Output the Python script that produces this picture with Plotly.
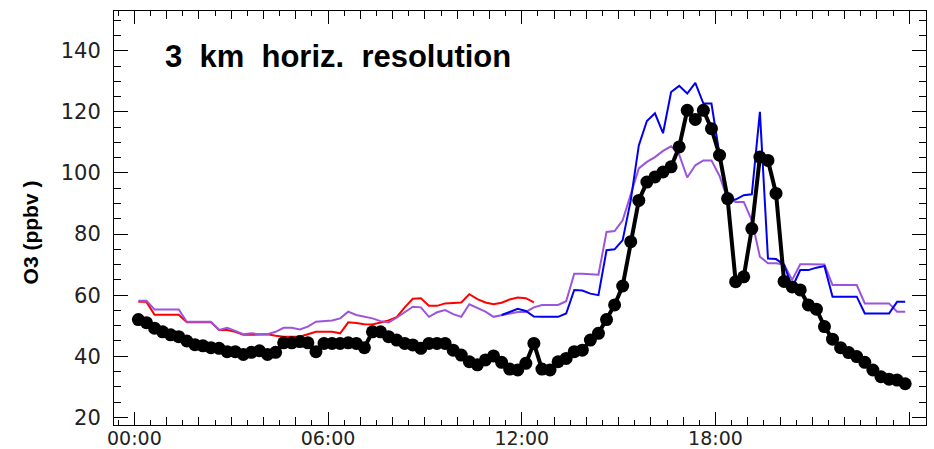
import plotly.graph_objects as go

# 15-minute sample times (hours after midnight)
times = [0.125 + 0.25 * i for i in range(96)]

obs = [52, 51, 49.2, 48, 47, 46.4, 45, 43.8, 43.4, 42.8,
       42.6, 41.5, 41.5, 40.6, 41.3, 41.8, 40.6, 41.3, 44.4, 44.4,
       44.8, 44.4, 41.5, 44.2, 44.2, 44.2, 44.4, 44.2, 42.8, 48,
       48, 46.4, 45.3, 44.2, 43.7, 42.6, 44.2, 44.2, 44.2, 42,
       40.4, 38.2, 37.2, 38.8, 40.1, 38, 35.8, 35.5, 37.7, 44.2,
       35.8, 35.5, 38.2, 39.3, 41.5, 42, 45.3, 47.5, 52, 56.8,
       63, 77.5, 91, 97, 98.7, 100.3, 102, 108.5, 120.5, 117.5,
       120.5, 114.5, 105.8, 91.6, 64.4, 66, 81.8, 105.2, 104.1, 93.3,
       64.5, 62.7, 61.7, 56.8, 55.4, 49.7, 45.6, 42.8, 41.2, 39.9,
       38, 35.5, 33.3, 32.5, 32.2, 31]

red = [57.8, 57.8, 53.6, 53.6, 53.6, 53.6, 51.1, 51.1, 51.1, 51.1,
       48.6, 48.6, 48.0, 47, 47, 47, 47.2, 46.7, 46.4, 46.4,
       46.4, 47.2, 48, 48, 48, 47.5, 51.1, 50.9, 50.5, 50.4,
       51.1, 51.7, 52.8, 56, 58.8, 59, 56.5, 56.5, 57.3, 57.5,
       57.6, 60.3, 58.7, 57.6, 57, 57.5, 58.6, 59.2, 59, 57.6] + [None] * 46

purple = [58.2, 58.2, 55.3, 55.3, 55.3, 55.3, 51.3, 51.3, 51.3, 51.3,
          48.6, 49.3, 48.3, 47.2, 47.5, 47.2, 47.2, 48, 49.3, 49.3,
          48.8, 49.7, 51.3, 51.5, 51.7, 52.4, 54.6, 53.5, 52.9, 52.4,
          51.5, 51.1, 52.6, 54.5, 56.2, 56, 52.9, 54.4, 55.1, 53.8,
          52.9, 57, 55.9, 54.6, 52.9, 53.5, 54, 54.5, 54.5, 56,
          56.8, 56.8, 56.8, 58, 67, 67, 66.8, 66.7, 80.7, 81,
          84.5, 93, 101.5, 103.6, 105.2, 107.2, 108.7, 106, 98.5, 102.5,
          104.1, 104.1, 99, 91.5, 90.5, 90.5, 84.5, 72.6, 70.4, 70.4,
          70, 65, 70.1, 70.1, 70.1, 70, 63.3, 63.3, 63.3, 63.3,
          57.3, 57.3, 57.3, 57.3, 54.6, 54.6]

blue = [None] * 45 + [
        53.5, 54.5, 55.5, 54.8, 53, 52.9, 52.9, 52.9, 54, 61.7,
        61.5, 60.5, 60, 74.7, 75, 78, 91, 109, 117, 119.5,
        113, 126.5, 128.5, 126, 129.5, 122.7, 122.7, 106, 91, 91.3,
        92.7, 93, 120, 72, 71.8, 70, 62.5, 68.2, 68.2, 69,
        69.5, 59.5, 59.5, 59.5, 59.5, 54, 54, 54, 54, 57.8,
        57.8]

hour_ticks = list(range(25))
hour_text = ["00:00", "", "", "", "", "", "06:00", "", "", "", "", "",
             "12:00", "", "", "", "", "", "18:00", "", "", "", "", "", "00:00"]
six_hour_ticks = [0, 6, 12, 18, 24]
ytick_vals = [20, 40, 60, 80, 100, 120, 140]

x_range = [-0.63, 24.52]

fig = go.Figure()
fig.add_trace(go.Scatter(x=times, y=red, mode="lines",
                         line=dict(color="#ff0000", width=2), showlegend=False))
fig.add_trace(go.Scatter(x=times, y=purple, mode="lines",
                         line=dict(color="#9b55dd", width=2), showlegend=False))
fig.add_trace(go.Scatter(x=times, y=blue, mode="lines",
                         line=dict(color="#0000ee", width=2), showlegend=False))
fig.add_trace(go.Scatter(x=times, y=obs, mode="lines+markers",
                         line=dict(color="black", width=4),
                         marker=dict(color="black", size=13),
                         showlegend=False))
# invisible trace to activate the overlay axis carrying the long 6-hour ticks
fig.add_trace(go.Scatter(x=times, y=obs, xaxis="x2", mode="lines",
                         line=dict(width=0), opacity=0, hoverinfo="skip",
                         showlegend=False))

ytickfont = dict(family="DejaVu Sans", size=21, color="#222")
xtickfont = dict(family="DejaVu Sans", size=19, color="#222")
fig.update_layout(
    xaxis=dict(range=x_range, tickvals=hour_ticks, ticktext=hour_text,
               ticks="inside", ticklen=8, tickcolor="black", tickwidth=1,
               minor=dict(dtick=0.5, tick0=0, ticks="inside", ticklen=5,
                          tickcolor="black", tickwidth=1),
               showline=True, linecolor="black", linewidth=1, mirror="ticks",
               showgrid=False, zeroline=False, tickfont=xtickfont,
               ticklabelstandoff=-4, automargin=False),
    xaxis2=dict(range=x_range, overlaying="x", anchor="y", side="bottom",
                tickvals=six_hour_ticks, showticklabels=False,
                ticks="inside", ticklen=13, tickcolor="black", tickwidth=1,
                showline=False, mirror="ticks", showgrid=False, zeroline=False,
                automargin=False),
    yaxis=dict(range=[17.5, 153], tickvals=ytick_vals,
               ticks="inside", ticklen=14, tickcolor="black", tickwidth=1,
               minor=dict(dtick=5, tick0=0, ticks="inside", ticklen=7,
                          tickcolor="black", tickwidth=1),
               showline=True, linecolor="black", linewidth=1, mirror="ticks",
               showgrid=False, zeroline=False, tickfont=ytickfont,
               ticklabelstandoff=8, automargin=False),
)

fig.add_annotation(text="3\u00a0 km\u00a0 horiz.\u00a0 resolution", xref="paper", yref="paper",
                   x=0.0603, y=0.889, xanchor="left", yanchor="middle",
                   showarrow=False,
                   font=dict(family="Liberation Sans", size=31, color="black", weight="bold"))
fig.add_annotation(text="O3 (ppbv )", xref="paper", yref="paper",
                   x=-0.103, y=0.466, xanchor="center", yanchor="middle",
                   textangle=-90, showarrow=False,
                   font=dict(family="Liberation Sans", size=21, color="black", weight="bold"))

fig.update_layout(width=934, height=449,
                  margin=dict(l=114, r=8, t=11, b=24),
                  plot_bgcolor="white", paper_bgcolor="white")

fig.write_html("out.html")
